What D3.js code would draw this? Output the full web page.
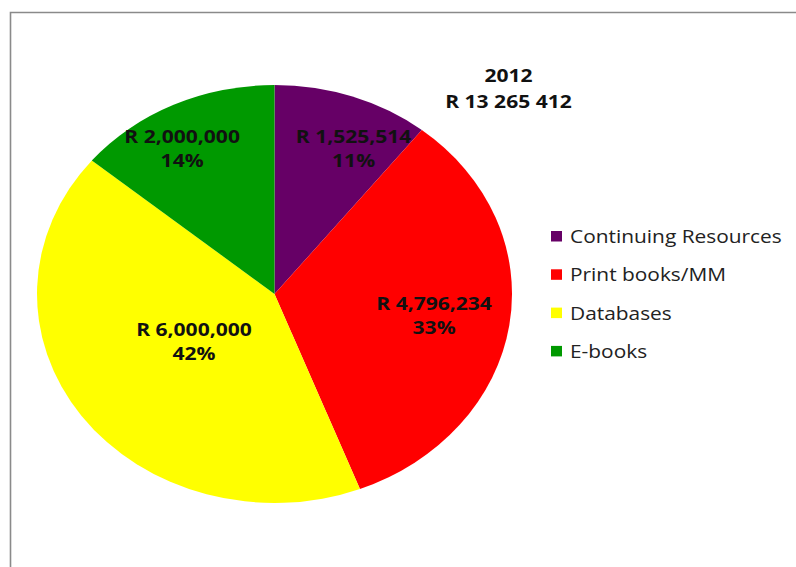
<!DOCTYPE html>
<html>
<head>
<meta charset="utf-8">
<script src="https://cdn.jsdelivr.net/npm/d3@7"></script>
<style>
  html, body { margin: 0; padding: 0; background: #fff; }
  svg { display: block; }
</style>
</head>
<body>
<svg id="chart" width="796" height="567"></svg>
<script>
// Budget allocation, 2012
const categories = ["Continuing Resources", "Print books/MM", "Databases", "E-books"];
const amounts = [1525514, 4796234, 6000000, 2000000];
const colors = ["#660066", "#ff0000", "#ffff00", "#009900"];
const titleLines = ["2012", "R 13 265 412"];

// Label anchors inside each slice, in unit-pie coordinates (x right, y down)
const labelAnchors = [[0.333, -0.694], [0.672, 0.105], [-0.339, 0.23], [-0.389, -0.696]];

const W = 796, H = 567;
const cx = 274.5, cy = 294, rx = 237.5, ry = 209;
const R = 100; // base radius; the pie is stretched to rx/ry
const textStretch = 1.17; // text is drawn wide to match the stretched pie

const svg = d3.select("#chart");

// Chart frame (runs past the right and bottom edges)
svg.append("path")
  .attr("d", `M10.5,${H + 5} L10.5,12.5 L${W + 5},12.5`)
  .attr("fill", "none")
  .attr("stroke", "#8a8a8a")
  .attr("stroke-width", 1.6);

const total = d3.sum(amounts);
const pie = d3.pie().sort(null).value(d => d)(amounts);
const arc = d3.arc().innerRadius(0).outerRadius(R);

const pieG = svg.append("g")
  .attr("transform", `translate(${cx},${cy}) scale(${rx / R},${ry / R})`);

pieG.selectAll("path.slice")
  .data(pie)
  .join("path")
  .attr("class", "slice")
  .attr("d", arc)
  .attr("fill", (d, i) => colors[i]);

// Slice labels
const fmt = d3.format(",");
const pct = d3.format(".0%");
const labelFont = "'Open Sans', 'DejaVu Sans', sans-serif";
const labels = svg.append("g").attr("font-family", labelFont)
  .attr("font-weight", "bold").attr("font-size", 18).attr("fill", "#111");

pie.forEach((d, i) => {
  const [ux, uy] = labelAnchors[i];
  const lx = cx + ux * rx, ly = cy + uy * ry;
  const t = labels.append("text")
    .attr("text-anchor", "middle")
    .attr("transform", `translate(${lx},${ly}) scale(${textStretch},1)`);
  t.append("tspan").attr("x", 0).attr("y", -6).text("R " + fmt(amounts[i]));
  t.append("tspan").attr("x", 0).attr("y", 18).text(pct(amounts[i] / total));
});

// Title
const title = svg.append("text")
  .attr("font-family", labelFont).attr("font-weight", "bold")
  .attr("font-size", 18).attr("fill", "#111")
  .attr("text-anchor", "middle")
  .attr("transform", `translate(508.5,0) scale(${textStretch},1)`);
titleLines.forEach((s, i) => {
  title.append("tspan").attr("x", 0).attr("y", 82 + i * 26).text(s);
});

// Legend
const legend = svg.append("g").attr("transform", "translate(551,243)");
const rows = legend.selectAll("g.item")
  .data(categories)
  .join("g")
  .attr("class", "item")
  .attr("transform", (d, i) => `translate(0,${i * 38.3})`);
rows.append("rect")
  .attr("x", 0).attr("y", -12).attr("width", 11).attr("height", 10.5)
  .attr("fill", (d, i) => colors[i]);
rows.append("text")
  .attr("transform", `translate(19,0) scale(1.16,1)`)
  .attr("font-family", labelFont).attr("font-size", 18).attr("fill", "#222")
  .text(d => d);
</script>
</body>
</html>
